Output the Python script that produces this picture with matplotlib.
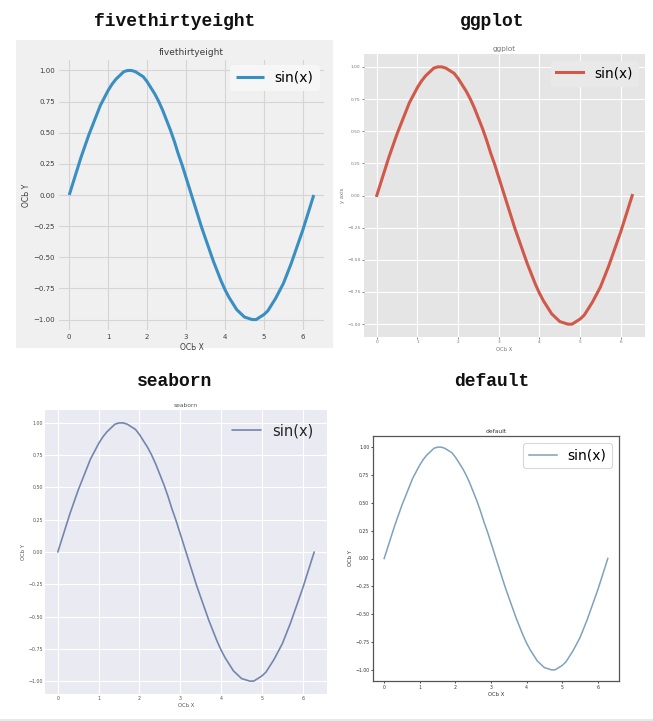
import matplotlib
matplotlib.use("Agg")
import matplotlib.pyplot as plt
from matplotlib.patches import Rectangle
from matplotlib.lines import Line2D

# ---- data ----
x_vals = [0.0, 0.1, 0.2, 0.3, 0.4, 0.5, 0.6, 0.7, 0.8, 0.9,
          1.0, 1.1, 1.2, 1.3, 1.4, 1.5, 1.6, 1.7, 1.8, 1.9,
          2.0, 2.1, 2.2, 2.3, 2.4, 2.5, 2.6, 2.7, 2.8, 2.9,
          3.0, 3.1, 3.2, 3.3, 3.4, 3.5, 3.6, 3.7, 3.8, 3.9,
          4.0, 4.1, 4.2, 4.3, 4.4, 4.5, 4.6, 4.7, 4.8, 4.9,
          5.0, 5.1, 5.2, 5.3, 5.4, 5.5, 5.6, 5.7, 5.8, 5.9,
          6.0, 6.1, 6.2, 6.28]
y_vals = [0.00, 0.10, 0.20, 0.30, 0.39, 0.48, 0.56, 0.64, 0.72, 0.78,
          0.84, 0.89, 0.93, 0.96, 0.99, 1.00, 1.00, 0.99, 0.97, 0.95,
          0.91, 0.86, 0.81, 0.75, 0.68, 0.60, 0.52, 0.43, 0.33, 0.24,
          0.14, 0.04, -0.06, -0.16, -0.26, -0.35, -0.44, -0.53, -0.61, -0.69,
          -0.76, -0.82, -0.87, -0.92, -0.95, -0.98, -0.99, -1.00, -1.00, -0.98,
          -0.96, -0.93, -0.88, -0.83, -0.77, -0.71, -0.63, -0.55, -0.46, -0.37,
          -0.28, -0.18, -0.08, 0.00]
series_label = "sin(x)"
style_names = ["fivethirtyeight", "ggplot", "seaborn", "default"]
mpl_styles = ["fivethirtyeight", "ggplot", "seaborn-v0_8", "default"]
x_labels = ["ОСЬ X", "ОСЬ X", "ОСЬ X", "ОСЬ X"]
y_labels = ["ОСЬ Y", "y axis", "ОСЬ Y", "ОСЬ Y"]

W, H = 653, 721
fig = plt.figure(figsize=(W / 100, H / 100), dpi=100)
fig.patch.set_facecolor("white")


def frect(x0, y0, x1, y1):
    return [x0 / W, 1 - y1 / H, (x1 - x0) / W, (y1 - y0) / H]


# fivethirtyeight figure background
fig.patches.append(Rectangle((16 / W, 1 - 348 / H), (333 - 16) / W, (348 - 40) / H,
                             transform=fig.transFigure, facecolor="#f0f0f0",
                             edgecolor="none", zorder=-10))
# bottom faint line
fig.lines.append(Line2D([0, 1], [1 - 719.5 / H] * 2, transform=fig.transFigure,
                        color="#e4e4e4", lw=1.2, zorder=-10))

# headers
headers_pos = [(175, 21), (492, 21), (175, 382), (492, 382)]
for name, (hx, hy) in zip(style_names, headers_pos):
    fig.text(hx / W, 1 - hy / H, name, family="Liberation Mono", weight="bold",
             fontsize=13, ha="center", va="center", color="#111111")

panels = [
    dict(rect=frect(57, 58, 326, 332), color="#3a8fc2", lw=2.2, tick=5.0, title=6.5,
         lab=5.5, leg=10, tcol="#3c3c3c", pad=1.5, lpad=2, frame=True,
         legface="#f6f6f6", legedge="#f6f6f6", ticklen=0, grid="#d5d5d5"),
    dict(rect=frect(364, 54, 645, 337), color="#d0594a", lw=2.2, tick=3.2, title=5.2,
         lab=3.8, leg=9.8, tcol="#777777", pad=1.0, lpad=1.5, frame=True,
         legface="#e9e9e9", legedge="#e9e9e9", ticklen=1.5, grid="white"),
    dict(rect=frect(45, 410, 327, 694), color="#7486ad", lw=1.2, tick=3.4, title=4.3,
         lab=3.8, leg=10.5, tcol="#555555", pad=1.5, lpad=1.5, frame=False,
         legface="none", legedge="none", ticklen=0, grid="white"),
    dict(rect=frect(373, 436, 619, 681), color="#7fa2bb", lw=1.1, tick=3.3, title=4.3,
         lab=3.8, leg=10, tcol="#333333", pad=1.2, lpad=1.5, frame=True,
         legface="white", legedge="#d8d8d8", ticklen=1.5, grid=None),
]

for sty, name, xl, yl, p in zip(mpl_styles, style_names, x_labels, y_labels, panels):
    with plt.style.context(sty):
        ax = fig.add_axes(p["rect"])
        ax.plot(x_vals, y_vals, color=p["color"], lw=p["lw"], label=series_label,
                solid_joinstyle="round")
        ax.set_title(name, fontsize=p["title"], pad=2.5, color=p["tcol"])
        ax.set_xlabel(xl, fontsize=p["lab"], labelpad=p["lpad"], color=p["tcol"])
        ax.set_ylabel(yl, fontsize=p["lab"], labelpad=p["lpad"], color=p["tcol"])
        ax.tick_params(labelsize=p["tick"], pad=p["pad"], length=p["ticklen"],
                       width=0.5, labelcolor=p["tcol"])
        if p["grid"] is not None:
            ax.grid(True, color=p["grid"], lw=0.8)
        else:
            ax.grid(False)
            for s in ax.spines.values():
                s.set_linewidth(0.9)
                s.set_color("#555555")
        if sty in ("ggplot", "seaborn-v0_8"):
            for s in ax.spines.values():
                s.set_visible(False)
        leg = ax.legend(loc="upper right", fontsize=p["leg"], frameon=p["frame"],
                        borderaxespad=0.5)
        if p["frame"]:
            leg.get_frame().set_facecolor(p["legface"])
            leg.get_frame().set_edgecolor(p["legedge"])
            leg.get_frame().set_alpha(1.0)
            leg.get_frame().set_linewidth(0.8)

fig.savefig("out.png", dpi=100)
